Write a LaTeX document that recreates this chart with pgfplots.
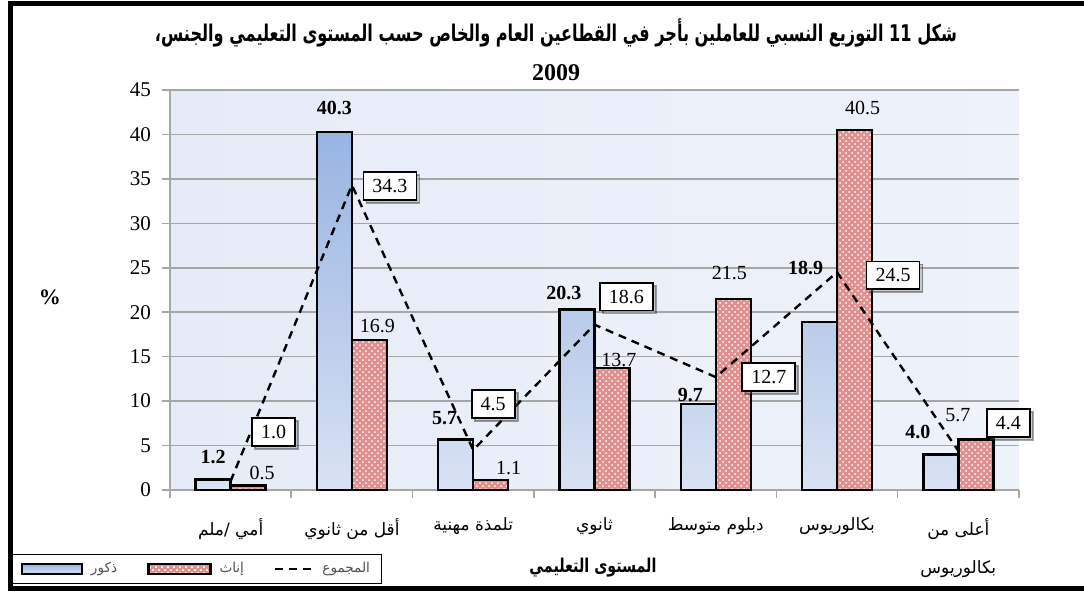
\documentclass[border=0pt]{standalone}
\usepackage{fontspec}
\setmainfont{Liberation Serif}
\newfontfamily\arabicfont[Script=Arabic]{DejaVu Sans}
\TeXXeTstate=1
\usepackage{pgfplots}
\pgfplotsset{compat=1.18}
\usepackage{pgfplotstable}
\usetikzlibrary{patterns,shadows}
\newcommand\ar[1]{{\arabicfont\beginR #1\endR}}
\definecolor{gridc}{HTML}{A6A6A6}
\definecolor{bgl}{HTML}{E6ECF7}
\definecolor{bgr}{HTML}{EEF2FA}
\definecolor{mtop}{HTML}{98B4E2}
\definecolor{mbot}{HTML}{D8E2F3}
\definecolor{fred}{HTML}{E0908E}
\definecolor{legtext}{HTML}{505050}

\pgfplotstableread{
x m mdx mdy f fdx fdy t tdx tdy
0 1.2 -8.75 11 0.5 15.75 6.5 1.0 21.5 24.5
1 40.3 -8.75 12 16.9 12.75 7 34.3 19 -0.5
2 5.7 -14.25 10.5 1.1 17.75 6 4.5 10 23
3 20.3 -15.25 8.5 13.7 12.25 4 18.6 16 14
4 9.7 -12.75 4.5 21.5 6.75 13 12.7 26.5 0
5 18.9 -15.75 27 40.5 12.75 11 24.5 28 -1.5
6 4.0 -20.25 11 5.7 -0.25 12 4.4 25 14
}\data

\begin{document}
\begin{tikzpicture}
\useasboundingbox (0,0) rectangle (542pt,295.5pt);
\draw[black, line width=2.5pt] (542pt,294pt) -- (5.25pt,294pt) -- (5.25pt,1.5pt) -- (542pt,1.5pt);
\begin{axis}[
  at={(85pt,50.5pt)}, anchor=south west,
  width=424.5pt, height=200pt, scale only axis,
  xmin=-0.5, xmax=6.5, ymin=0, ymax=45,
  ytick={0,5,...,45},
  xtick={0,...,6},
  xticklabels={{\ar{أمي /ملم}},{\ar{أقل من ثانوي}},{\ar{تلمذة مهنية}},{\ar{ثانوي}},{\ar{دبلوم متوسط}},{\ar{بكالوريوس}},{\ar{أعلى من}\\[9pt]\ar{بكالوريوس}}},
  minor xtick={-0.5,0.5,...,6.5},
  major x tick style={draw=none},
  minor x tick style={gridc, line width=0.8pt},
  y tick style={gridc, line width=0.8pt},
  tick align=outside,
  major tick length=4pt, minor tick length=4pt,
  axis x line*=bottom, axis y line*=left,
  axis line style={gridc, line width=0.8pt, -},
  ymajorgrids, grid style={gridc, line width=0.8pt},
  /pgf/number format/assume math mode=true,
  yticklabel style={font=\fontsize{10.5}{12}\selectfont, xshift=-2pt},
  xticklabel style={align=center, font=\fontsize{8.5}{10}\selectfont, yshift=-6.5pt},
  axis background/.style={left color=bgl, right color=bgr},
  clip=false,
  legend style={at={(-0.186,-0.235)}, anchor=south west, legend columns=3,
    font=\fontsize{6.8}{8}\selectfont, text=legtext, draw=black, line width=0.5pt,
    inner ysep=2pt, inner xsep=4pt,
    /tikz/every odd column/.append style={column sep=2pt},
    /tikz/every even column/.append style={column sep=13pt}},
]
\addplot[ybar, bar width=17.5pt, bar shift=-8.75pt, draw=black, line width=1.2pt,
  top color=mtop, bottom color=mbot,
  visualization depends on={\thisrow{mdx} \as \mdx},
  visualization depends on={\thisrow{mdy} \as \mdy},
  nodes near coords={\pgfmathprintnumber[fixed,fixed zerofill,precision=1]{\pgfplotspointmeta}},
  every node near coord/.append style={anchor=center, text=black, font=\fontsize{10}{12}\selectfont\bfseries, xshift={\mdx*1pt}, yshift={\mdy*1pt}},
  legend image code/.code={\draw[black, line width=1.2pt, top color=mtop, bottom color=mbot] (0pt,-2.5pt) rectangle (30pt,2.5pt);}
] table[x=x, y=m] {\data};
\addlegendentry{\ar{ذكور}}
\addplot[ybar, bar width=17.5pt, bar shift=8.75pt, draw=black, line width=1.2pt,
  fill=fred, postaction={pattern=crosshatch dots, pattern color=white},
  visualization depends on={\thisrow{fdx} \as \fdx},
  visualization depends on={\thisrow{fdy} \as \fdy},
  nodes near coords={\pgfmathprintnumber[fixed,fixed zerofill,precision=1]{\pgfplotspointmeta}},
  every node near coord/.append style={anchor=center, text=black, font=\fontsize{10}{12}\selectfont, xshift={\fdx*1pt}, yshift={\fdy*1pt}},
  legend image code/.code={\draw[black, line width=1.2pt, fill=fred, postaction={pattern=crosshatch dots, pattern color=white}] (0pt,-2.5pt) rectangle (31pt,2.5pt);}
] table[x=x, y=f] {\data};
\addlegendentry{\ar{إناث}}
\addplot[sharp plot, black, line width=1.2pt, dash pattern=on 4pt off 3pt, mark=none,
  visualization depends on={\thisrow{tdx} \as \tdx},
  visualization depends on={\thisrow{tdy} \as \tdy},
  nodes near coords={\pgfmathprintnumber[fixed,fixed zerofill,precision=1]{\pgfplotspointmeta}},
  every node near coord/.append style={anchor=center, text=black, font=\fontsize{10}{12}\selectfont, solid,
    draw=black, line width=0.9pt, fill=white, inner xsep=4.5pt, inner ysep=3.5pt,
    drop shadow={shadow xshift=1.5pt, shadow yshift=-1.5pt, opacity=0.35},
    xshift={\tdx*1pt}, yshift={\tdy*1pt}},
  legend image code/.code={\draw[black, line width=1.2pt, dash pattern=on 4pt off 3pt] (0pt,0pt) -- (19pt,0pt);}
] table[x=x, y=t] {\data};
\addlegendentry{\ar{المجموع}}
\end{axis}
\node[font=\fontsize{11.5}{13}\selectfont\bfseries] at (278pt,279pt) {\resizebox{401pt}{\height}{\ar{شكل 11 التوزيع النسبي للعاملين بأجر في القطاعين العام والخاص حسب المستوى التعليمي والجنس،}}};
\node[font=\fontsize{12}{14}\selectfont\bfseries] at (278pt,259pt) {2009};
\node[font=\fontsize{9.5}{12}\selectfont\bfseries] at (296.5pt,11.5pt) {\resizebox{63.5pt}{\height}{\ar{المستوى التعليمي}}};
\node[font=\fontsize{11}{13}\selectfont\bfseries] at (25pt,147pt) {\%};
\end{tikzpicture}
\end{document}
